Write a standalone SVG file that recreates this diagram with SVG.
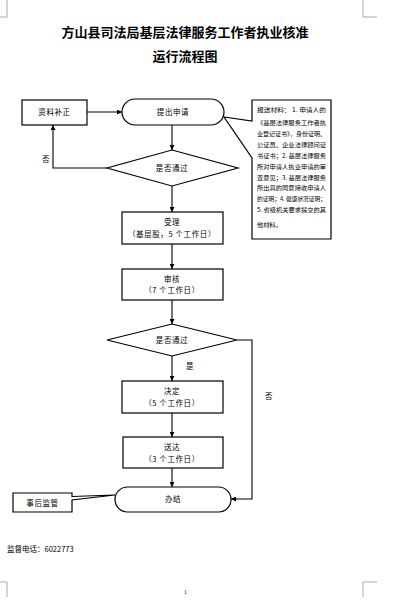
<svg xmlns="http://www.w3.org/2000/svg" width="407" height="607" viewBox="0 0 407 607">
<style>
.t{font-family:"Noto Sans CJK SC","Liberation Sans",sans-serif;fill:#000}
.title{font-size:13px;font-weight:bold;text-anchor:middle}
.n{font-size:7.5px;text-anchor:middle;letter-spacing:0.6px}
.c{font-size:6.2px}
.box{fill:#fff;stroke:#000;stroke-width:1.2}
.ln{fill:none;stroke:#000;stroke-width:1.1}
.mark{fill:none;stroke:#aaa;stroke-width:1}
</style>
<defs>
<marker id="ah" viewBox="0 0 10 10" refX="10" refY="5" markerWidth="5" markerHeight="5" orient="auto" markerUnits="userSpaceOnUse">
<path d="M0,0 L10,5 L0,10 Z" fill="#000"/>
</marker>
</defs>
<rect width="407" height="607" fill="#fff"/>
<g id="corners">
<path class="mark" d="M0,17 H7 V0"/>
<path class="mark" d="M377,17 H363 V0"/>
<path class="mark" d="M0,582 H7 V597"/>
<path class="mark" d="M377,582 H363 V597"/>
</g>
<g id="title">
<text class="t title" x="185" y="37">方山县司法局基层法律服务工作者执业核准</text>
<text class="t title" x="185" y="61">运行流程图</text>
</g>
<g id="connectors">
<line class="ln" x1="87" y1="112" x2="122" y2="112" marker-end="url(#ah)"/>
<line class="ln" x1="172" y1="125" x2="172" y2="150" marker-end="url(#ah)"/>
<polyline class="ln" points="107,168 53,168 53,125" marker-end="url(#ah)"/>
<line class="ln" x1="172" y1="186" x2="172" y2="212" marker-end="url(#ah)"/>
<line class="ln" x1="172" y1="244" x2="172" y2="269" marker-end="url(#ah)"/>
<line class="ln" x1="172" y1="300" x2="172" y2="324" marker-end="url(#ah)"/>
<line class="ln" x1="172" y1="356" x2="172" y2="381" marker-end="url(#ah)"/>
<line class="ln" x1="172" y1="413" x2="172" y2="437" marker-end="url(#ah)"/>
<line class="ln" x1="172" y1="468" x2="172" y2="487" marker-end="url(#ah)"/>
<polyline class="ln" points="237,340 252,340 252,499 231,499" marker-end="url(#ah)"/>
<text class="t n" x="46" y="162">否</text>
<text class="t n" x="190" y="369">是</text>
<text class="t n" x="269" y="399">否</text>
</g>
<g id="n_buzheng">
<rect class="box" x="22" y="100" width="65" height="25"/>
<text class="t n" x="54.5" y="115">资料补正</text>
</g>
<g id="n_shenqing">
<rect class="box" x="122" y="99" width="102" height="26" rx="13"/>
<text class="t n" x="173" y="115">提出申请</text>
</g>
<g id="n_cailiao">
<path class="box" d="M252,100 H331 V239 H252 V158 L224,117 L252,121 Z"/>
<text class="t c" x="257" y="112" textLength="69" lengthAdjust="spacingAndGlyphs">报送材料：  1. 申请人的</text>
<text class="t c" x="257" y="125" textLength="69" lengthAdjust="spacingAndGlyphs">《基层法律服务工作者执</text>
<text class="t c" x="257" y="136" textLength="69" lengthAdjust="spacingAndGlyphs">业登记证书》，身份证明、</text>
<text class="t c" x="257" y="147" textLength="69" lengthAdjust="spacingAndGlyphs">公证员、企业法律顾问证</text>
<text class="t c" x="257" y="158" textLength="69" lengthAdjust="spacingAndGlyphs">书证书；2. 基层法律服务</text>
<text class="t c" x="257" y="169" textLength="69" lengthAdjust="spacingAndGlyphs">所对申请人执业申请的审</text>
<text class="t c" x="257" y="180" textLength="69" lengthAdjust="spacingAndGlyphs">查意见；3. 基层法律服务</text>
<text class="t c" x="257" y="190" textLength="69" lengthAdjust="spacingAndGlyphs">所出具的同意接收申请人</text>
<text class="t c" x="257" y="201" textLength="69" lengthAdjust="spacingAndGlyphs">的证明；4. 健康状况证明；</text>
<text class="t c" x="257" y="212" textLength="69" lengthAdjust="spacingAndGlyphs">5. 省级机关要求提交的其</text>
<text class="t c" x="257" y="227">他材料。</text>
</g>
<g id="n_panding1">
<polygon class="box" points="172,150 238,168 172,186 107,168"/>
<text class="t n" x="172" y="171">是否通过</text>
</g>
<g id="n_shouli">
<rect class="box" x="122" y="212" width="101" height="32"/>
<text class="t n" x="172" y="225">受理</text>
<text class="t n" x="172" y="237">（基层股，5 个工作日）</text>
</g>
<g id="n_shenhe">
<rect class="box" x="122" y="269" width="101" height="31"/>
<text class="t n" x="172" y="282">审核</text>
<text class="t n" x="172" y="293">（7 个工作日）</text>
</g>
<g id="n_panding2">
<polygon class="box" points="172,324 237,340 172,356 107,340"/>
<text class="t n" x="172" y="343">是否通过</text>
</g>
<g id="n_jueding">
<rect class="box" x="122" y="381" width="101" height="32"/>
<text class="t n" x="172" y="394">决定</text>
<text class="t n" x="172" y="406">（5 个工作日）</text>
</g>
<g id="n_songda">
<rect class="box" x="123" y="437" width="100" height="31"/>
<text class="t n" x="172" y="450">送达</text>
<text class="t n" x="172" y="462">（3 个工作日）</text>
</g>
<g id="n_banjie">
<rect class="box" x="115" y="487" width="116" height="25" rx="12.5"/>
<text class="t n" x="173" y="502">办结</text>
</g>
<g id="n_jianguan">
<path class="box" d="M13,493 H72 V496.5 L115,495 L72,500 V512 H13 Z"/>
<text class="t n" x="42.5" y="506">事后监管</text>
</g>
<g id="footer">
<text class="t" x="7" y="552" font-size="7.5">监督电话：6022773</text>
<text class="t" x="184" y="594" font-size="5" fill="#c8a0a8">1</text>
</g>
</svg>
